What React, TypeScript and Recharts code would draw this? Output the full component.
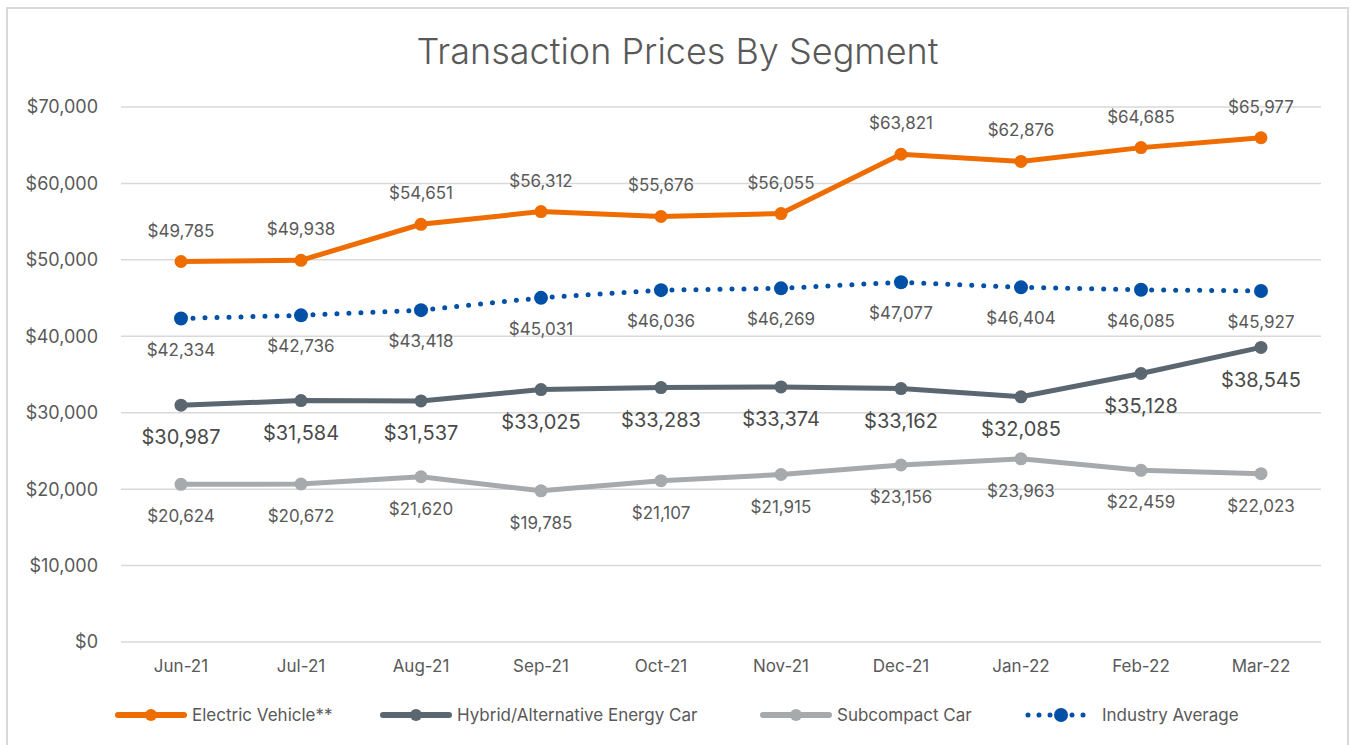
import { LineChart, Line, XAxis, YAxis, CartesianGrid, LabelList } from "recharts";

const months = ["Jun-21", "Jul-21", "Aug-21", "Sep-21", "Oct-21", "Nov-21", "Dec-21", "Jan-22", "Feb-22", "Mar-22"];
const electric = [49785, 49938, 54651, 56312, 55676, 56055, 63821, 62876, 64685, 65977];
const hybrid = [30987, 31584, 31537, 33025, 33283, 33374, 33162, 32085, 35128, 38545];
const subcompact = [20624, 20672, 21620, 19785, 21107, 21915, 23156, 23963, 22459, 22023];
const industry = [42334, 42736, 43418, 45031, 46036, 46269, 47077, 46404, 46085, 45927];
const yTicks = [0, 10000, 20000, 30000, 40000, 50000, 60000, 70000];

const data = months.map((m, i) => ({
  month: m,
  ev: electric[i],
  hybrid: hybrid[i],
  sub: subcompact[i],
  avg: industry[i],
}));

const FONT = "Inter, 'Noto Sans', sans-serif";
const TEXT = "#595959";
const ORANGE = "#EE6C00";
const DARK = "#5A6670";
const LIGHT = "#A6AAAD";
const BLUE = "#0050A8";

const money = (v: any) => "$" + Number(v).toLocaleString("en-US");

const legendItems = [
  { label: "Electric Vehicle**", color: ORANGE, x: 107, dotted: false },
  { label: "Hybrid/Alternative Energy Car", color: DARK, x: 372, dotted: false },
  { label: "Subcompact Car", color: LIGHT, x: 752, dotted: false },
  { label: "Industry Average", color: BLUE, x: 1017, dotted: true },
];

function LegendIcon({ color, dotted }: { color: string; dotted: boolean }) {
  return (
    <svg width={72} height={16}>
      {dotted ? (
        <line x1={3} y1={8} x2={69} y2={8} stroke={color} strokeWidth={5} strokeLinecap="round" strokeDasharray="0 11" />
      ) : (
        <line x1={3} y1={8} x2={69} y2={8} stroke={color} strokeWidth={6} strokeLinecap="round" />
      )}
      <circle cx={36} cy={8} r={dotted ? 7 : 6} fill={color} />
    </svg>
  );
}

export default function App() {
  return (
    <div
      style={{
        position: "absolute",
        left: 6,
        top: 7,
        width: 1343,
        height: 770,
        border: "2px solid #D9D9D9",
        boxSizing: "border-box",
        background: "#fff",
        fontFamily: FONT,
      }}
    >
      <div
        style={{
          position: "absolute",
          top: 20,
          left: 0,
          width: "100%",
          textAlign: "center",
          fontSize: 36,
          fontWeight: 300,
          color: TEXT,
          lineHeight: "44px",
        }}
      >
        Transaction Prices By Segment
      </div>
      <LineChart width={1339} height={680} data={data} margin={{ top: 98, right: 26, left: 0, bottom: 17 }}>
        <CartesianGrid vertical={false} stroke="#D9D9D9" strokeWidth={1.5} />
        <XAxis
          dataKey="month"
          axisLine={false}
          tickLine={false}
          tickSize={0}
          tickMargin={18}
          height={30}
          padding={{ left: 60, right: 60 }}
          tick={{ fontSize: 17, fill: TEXT, fontFamily: FONT }}
        />
        <YAxis
          width={113}
          domain={[0, 70000]}
          ticks={yTicks}
          axisLine={false}
          tickLine={false}
          tickSize={0}
          tickMargin={23}
          tickFormatter={money}
          tick={{ fontSize: 18, fill: TEXT, fontFamily: FONT }}
        />
        <Line
          dataKey="sub"
          stroke={LIGHT}
          strokeWidth={5}
          dot={{ r: 6.5, fill: LIGHT, stroke: LIGHT, strokeWidth: 0 }}
          isAnimationActive={false}
        >
          <LabelList dataKey="sub" position="bottom" offset={26} formatter={money} fill={TEXT} fontSize={17} fontFamily={FONT} />
        </Line>
        <Line
          dataKey="hybrid"
          stroke={DARK}
          strokeWidth={5}
          dot={{ r: 6.5, fill: DARK, stroke: DARK, strokeWidth: 0 }}
          isAnimationActive={false}
        >
          <LabelList dataKey="hybrid" position="bottom" offset={25} formatter={money} fill="#4A4A4A" fontSize={20} fontFamily={FONT} />
        </Line>
        <Line
          dataKey="avg"
          stroke={BLUE}
          strokeWidth={5}
          strokeDasharray="0 12"
          strokeLinecap="round"
          dot={{ r: 7, fill: BLUE, stroke: BLUE, strokeWidth: 0 }}
          isAnimationActive={false}
        >
          <LabelList dataKey="avg" position="bottom" offset={25} formatter={money} fill={TEXT} fontSize={17} fontFamily={FONT} />
        </Line>
        <Line
          dataKey="ev"
          stroke={ORANGE}
          strokeWidth={5}
          dot={{ r: 6.5, fill: ORANGE, stroke: ORANGE, strokeWidth: 0 }}
          isAnimationActive={false}
        >
          <LabelList dataKey="ev" position="top" offset={25} formatter={money} fill={TEXT} fontSize={17} fontFamily={FONT} />
        </Line>
      </LineChart>
      {legendItems.map((it) => (
        <div
          key={it.label}
          style={{
            position: "absolute",
            left: it.x,
            top: 696,
            display: "flex",
            alignItems: "center",
            height: 20,
            fontSize: 17,
            color: TEXT,
            whiteSpace: "nowrap",
          }}
        >
          <LegendIcon color={it.color} dotted={it.dotted} />
          <span style={{ marginLeft: 5 }}>{it.label}</span>
        </div>
      ))}
    </div>
  );
}
